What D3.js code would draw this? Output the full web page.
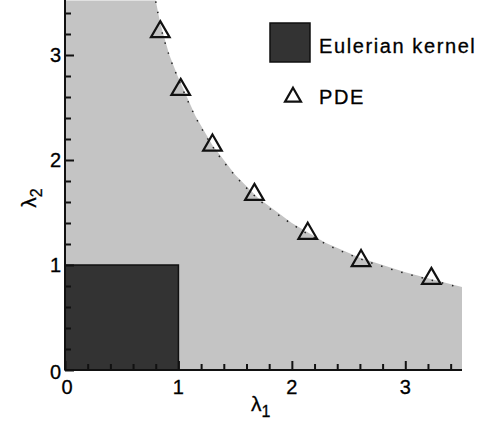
<!DOCTYPE html>
<html>
<head>
<meta charset="utf-8">
<script src="https://cdn.jsdelivr.net/npm/d3@7"></script>
<style>
  body { margin: 0; background: #fff; }
  text { font-family: "Liberation Sans", Arial, sans-serif; fill: #000; stroke: #000; stroke-width: 0.3; }
</style>
</head>
<body>
<svg id="chart" width="480" height="427"></svg>
<script>
// stability boundary (lambda1, lambda2)
var boundaryL1 = [0.80, 0.84, 0.92, 1.00, 1.15, 1.30, 1.50, 1.70, 2.00, 2.30, 2.60, 3.00, 3.25, 3.50];
var boundaryL2 = [3.52, 3.30, 3.00, 2.78, 2.42, 2.14, 1.86, 1.64, 1.40, 1.21, 1.07, 0.93, 0.86, 0.79];

// PDE points
var pdeL1 = [0.84, 1.02, 1.30, 1.67, 2.14, 2.61, 3.23];
var pdeL2 = [3.23, 2.68, 2.15, 1.68, 1.31, 1.05, 0.88];

// Eulerian kernel box
var kernelL1 = [0, 1];
var kernelL2 = [0, 1];

var xTicks = [0, 1, 2, 3];
var yTicks = [0, 1, 2, 3];

var svg = d3.select("#chart");
var left = 65, bottom = 370, right = 462;

var x = d3.scaleLinear().domain([0, 3.5]).range([left, right]);
var y = d3.scaleLinear().domain([0, 3.5]).range([bottom, bottom - 3.5 * 105]);

// gray region
var region = [[0, 0], [0, 3.52]];
for (var i = 0; i < boundaryL1.length; i++) region.push([boundaryL1[i], boundaryL2[i]]);
region.push([3.5, 0]);

svg.append("path")
    .attr("d", d3.line().x(function(d) { return x(d[0]); }).y(function(d) { return Math.max(y(d[1]), 0); })(region) + "Z")
    .style("fill", "#c4c4c4");

// sparse dots along the boundary
svg.append("path")
    .attr("d", d3.line().curve(d3.curveMonotoneX)
        .x(function(d, i) { return x(boundaryL1[i]); })
        .y(function(d, i) { return y(boundaryL2[i]) + 1; })(boundaryL1))
    .style("fill", "none")
    .style("stroke", "#222")
    .style("stroke-width", 1.5)
    .style("stroke-dasharray", "1.5,9");

// kernel square
svg.append("rect")
    .attr("x", x(kernelL1[0]))
    .attr("y", y(kernelL2[1]))
    .attr("width", x(kernelL1[1]) - x(kernelL1[0]))
    .attr("height", y(kernelL2[0]) - y(kernelL2[1]))
    .style("fill", "#333")
    .style("stroke", "#111")
    .style("stroke-width", 1.5);

// axes, ticks pointing inward
var xMinor = d3.range(0, 3.5001, 0.2).filter(function(v) { return Math.abs(v - Math.round(v)) > 1e-6; });
var yMinor = xMinor;

var xAxis = svg.append("g").attr("transform", "translate(0," + bottom + ")");
xAxis.call(d3.axisTop(x).tickValues(xMinor).tickSize(6).tickFormat(""));
xAxis.append("g").call(d3.axisTop(x).tickValues(xTicks).tickSize(9).tickFormat(""));
xAxis.selectAll("path.domain").remove();
xAxis.append("line").attr("x1", left).attr("x2", right).style("stroke", "#111").style("stroke-width", 2);
xAxis.selectAll("line").style("stroke", "#111").style("stroke-width", 2);

var yAxis = svg.append("g").attr("transform", "translate(" + left + ",0)");
yAxis.call(d3.axisRight(y).tickValues(yMinor).tickSize(6).tickFormat(""));
yAxis.append("g").call(d3.axisRight(y).tickValues(yTicks).tickSize(9).tickFormat(""));
yAxis.selectAll("path.domain").remove();
yAxis.append("line").attr("y1", 0).attr("y2", bottom).style("stroke", "#111").style("stroke-width", 2);
yAxis.selectAll("line").style("stroke", "#111").style("stroke-width", 2);

// tick labels
svg.selectAll(".xlab").data(xTicks).enter().append("text")
    .attr("x", function(d) { return x(d) + (d === 0 ? 2 : 0); })
    .attr("y", bottom + 24)
    .attr("text-anchor", "middle")
    .style("font-size", "20px")
    .text(function(d) { return d; });

svg.selectAll(".ylab").data(yTicks).enter().append("text")
    .attr("x", left - 4)
    .attr("y", function(d) { return y(d) + 7 + (d === 0 ? 2 : 0); })
    .attr("text-anchor", "end")
    .style("font-size", "20px")
    .text(function(d) { return d; });

// axis titles
var t1 = svg.append("text").attr("x", 251).attr("y", 411).style("font-size", "21px");
t1.append("tspan").text("λ");
t1.append("tspan").attr("dy", 6).style("font-size", "16px").text("1");

var t2 = svg.append("g").attr("transform", "translate(36,198) rotate(-90)")
    .append("text").attr("text-anchor", "middle").style("font-size", "21px");
t2.append("tspan").text("λ");
t2.append("tspan").attr("dy", 6).style("font-size", "16px").text("2");

// PDE triangles
var tri = d3.symbol().type(d3.symbolTriangle).size(150);
svg.selectAll(".pde").data(pdeL1).enter().append("path")
    .attr("d", tri)
    .attr("transform", function(d, i) { return "translate(" + x(d) + "," + (y(pdeL2[i]) + 1) + ")"; })
    .style("fill", "none")
    .style("stroke", "#111")
    .style("stroke-width", 2.2);

// legend
svg.append("rect")
    .attr("x", 270).attr("y", 23).attr("width", 40).attr("height", 39)
    .style("fill", "#333").style("stroke", "#111").style("stroke-width", 1.5);
svg.append("text").attr("x", 319).attr("y", 53)
    .style("font-size", "20px").style("letter-spacing", "1.6px").text("Eulerian kernel");

svg.append("path")
    .attr("d", d3.symbol().type(d3.symbolTriangle).size(110))
    .attr("transform", "translate(293,97)")
    .style("fill", "none").style("stroke", "#111").style("stroke-width", 2.2);
svg.append("text").attr("x", 319).attr("y", 104)
    .style("font-size", "20px").style("letter-spacing", "1.6px").text("PDE");
</script>
</body>
</html>
